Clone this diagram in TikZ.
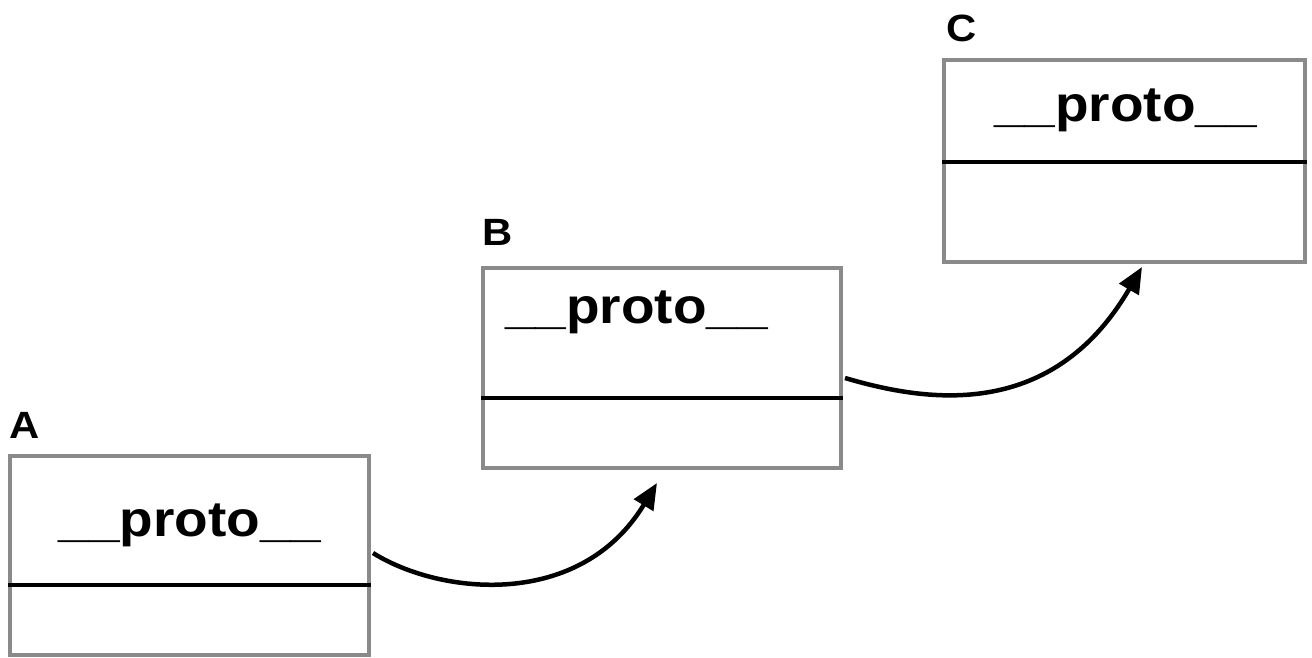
\documentclass[tikz,border=0pt]{standalone}
\usepackage{fontspec}
\setmainfont{Liberation Sans}[FakeStretch=1.1]
\usetikzlibrary{arrows.meta}
\definecolor{boxgray}{HTML}{8A8A8A}
\tikzset{
  objbox/.style={draw=boxgray, line width=4.5pt, rectangle, inner sep=0pt, outer sep=0pt},
  divider/.style={draw=black, line width=4.5pt},
  protolbl/.style={anchor=base, inner sep=0pt, font=\fontsize{50}{54}\selectfont\bfseries},
  namelbl/.style={anchor=base west, inner sep=0pt, font=\fontsize{38}{42}\selectfont\bfseries},
  protoarrow/.style={draw=black, line width=4.5pt, -{Triangle[length=26pt,width=22pt]}}
}
\begin{document}
\begin{tikzpicture}[x=1pt,y=-1pt]
\useasboundingbox (0,0) rectangle (1312,658);
% boxes
\node[objbox, minimum width=359pt, minimum height=199pt] (A) at (189.5,555.5) {};
\node[objbox, minimum width=358pt, minimum height=200pt] (B) at (662,368) {};
\node[objbox, minimum width=361pt, minimum height=202pt] (C) at (1124.5,161) {};
% dividers
\draw[divider] ([xshift=-2pt]A.west |- 0,585) -- ([xshift=2pt]A.east |- 0,585);
\draw[divider] ([xshift=-2pt]B.west |- 0,398) -- ([xshift=2pt]B.east |- 0,398);
\draw[divider] ([xshift=-2pt]C.west |- 0,162) -- ([xshift=2pt]C.east |- 0,162);
% texts
\node[protolbl] (Ap) at (190,536) {\_\_proto\_\_};
\node[protolbl] (Bp) at (636.5,323) {\_\_proto\_\_};
\node[protolbl] (Cp) at (1125.5,122) {\_\_proto\_\_};
\node[namelbl] (Al) at (9,438) {A};
\node[namelbl] (Bl) at (482,245) {B};
\node[namelbl] (Cl) at (946,42) {C};
% arrows
\draw[protoarrow] ([shift={(4,-2.5)}]A.east) .. controls (440,595) and (580,610) .. ([shift={(-5,15)}]B.south);
\draw[protoarrow] ([shift={(4,10)}]B.east) .. controls (920,400) and (1050,425) .. ([shift={(17.5,5)}]C.south);
\end{tikzpicture}
\end{document}
